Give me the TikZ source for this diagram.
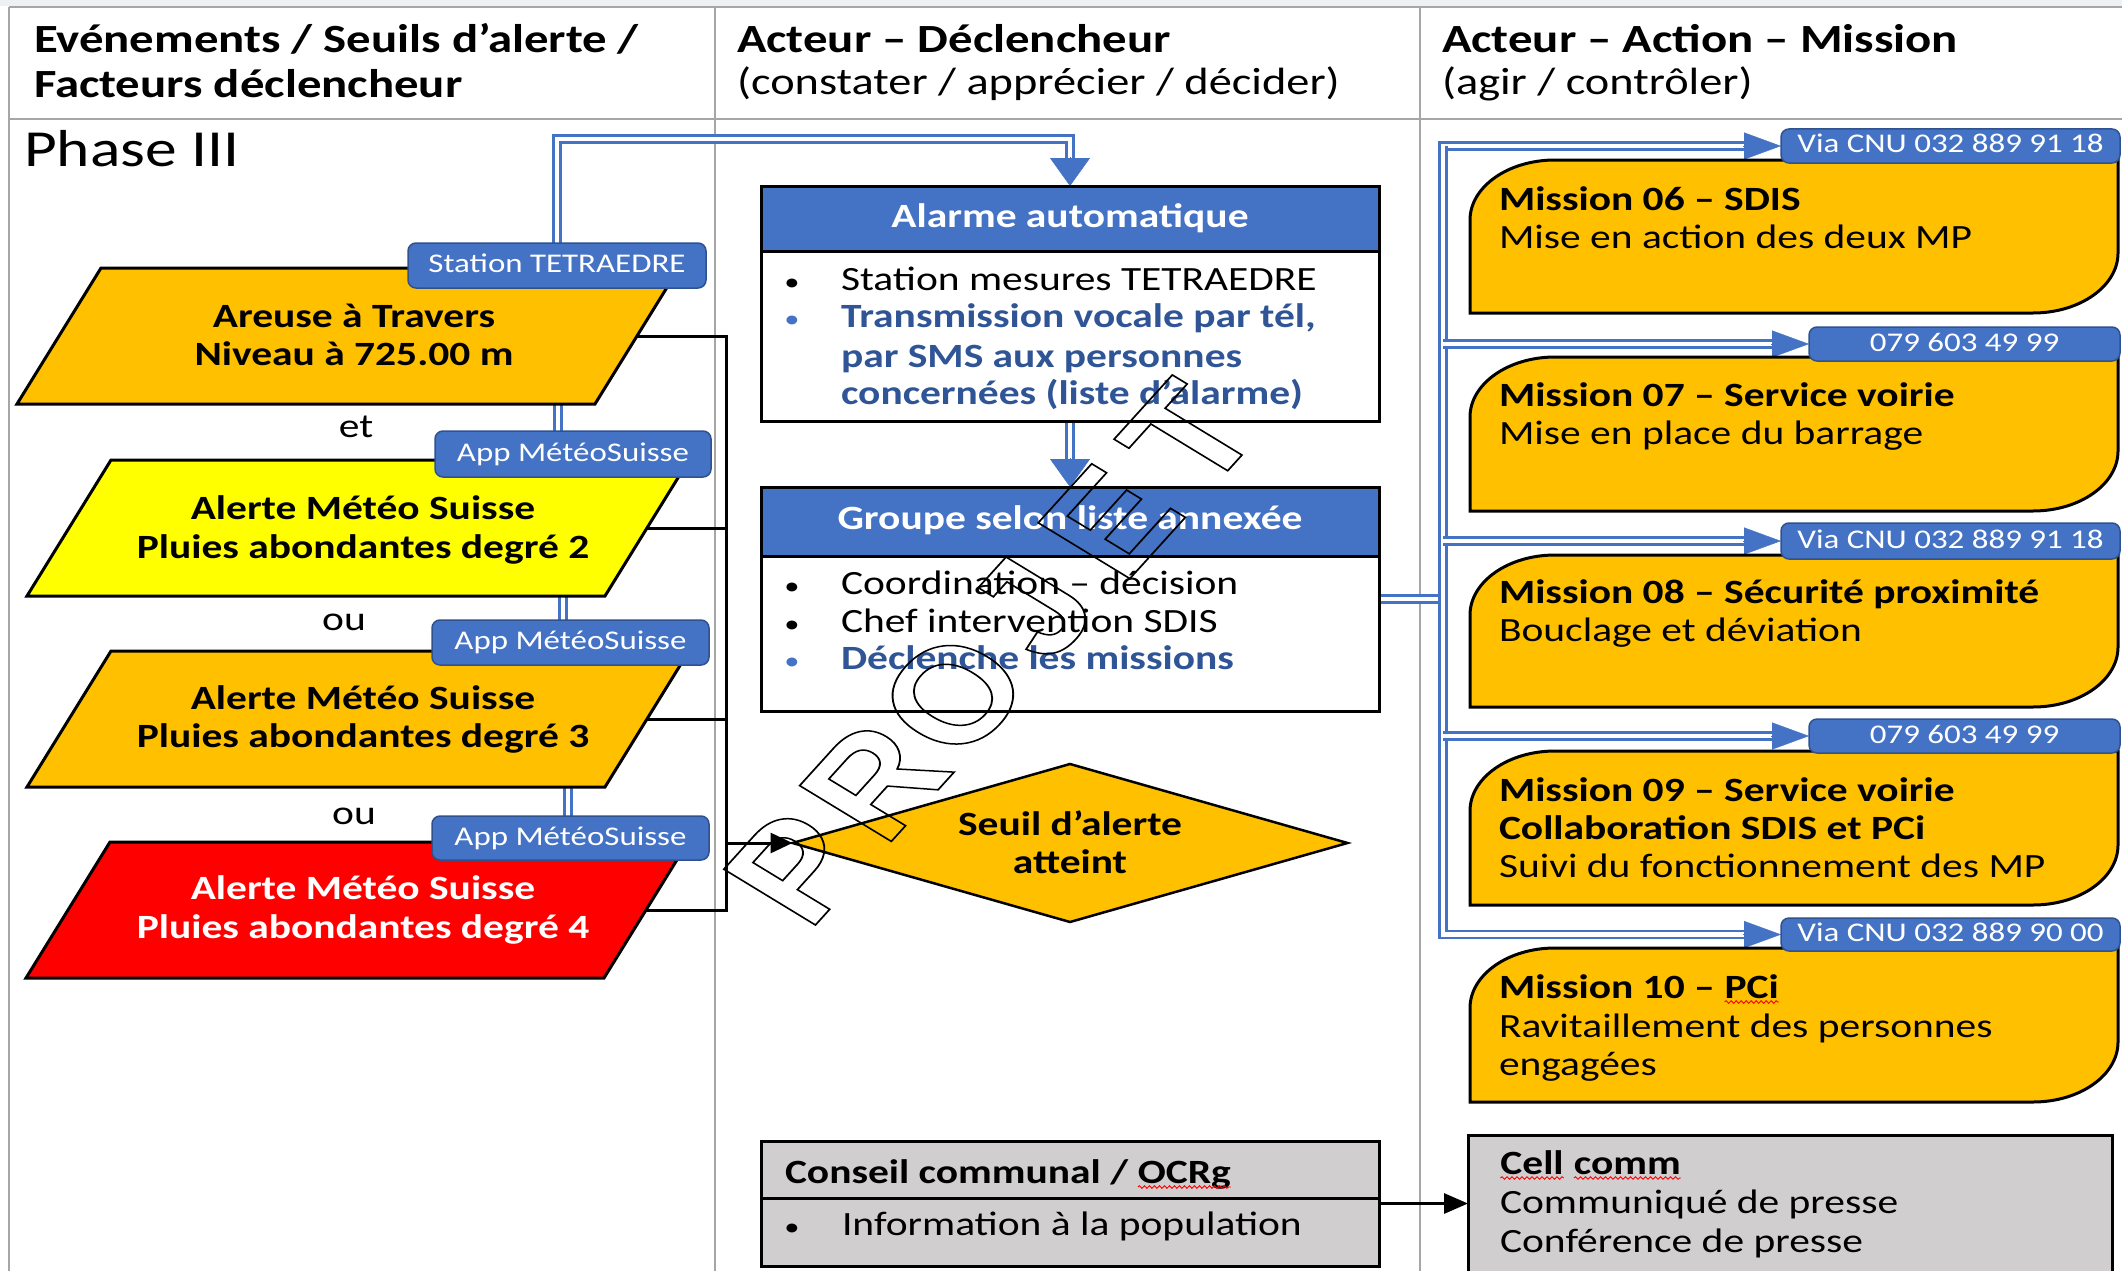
\documentclass[tikz,border=0pt]{standalone}
\usepackage{fontspec}
\setmainfont{Carlito}[FakeStretch=1.22]
\newfontfamily\wmfont{Liberation Sans}
\usetikzlibrary{arrows.meta,shapes.geometric,decorations.pathmorphing}
\pgfdeclarelayer{back}\pgfdeclarelayer{bg}\pgfsetlayers{back,bg,main}
\definecolor{hblue}{HTML}{4472C4}
\definecolor{lblue}{HTML}{2F528F}
\definecolor{tblue}{HTML}{2F5597}
\definecolor{gold}{HTML}{FFC000}
\definecolor{yel}{HTML}{FFFF00}
\definecolor{redf}{HTML}{FF0000}
\definecolor{grayf}{HTML}{D0CECE}
\definecolor{tline}{HTML}{A6A6A6}
\definecolor{topstrip}{HTML}{EEF1F3}
\newcommand\sqw[1]{\tikz[baseline=(w.base)]{\node[inner sep=0pt,outer sep=0pt](w){#1};\draw[red,line width=0.9pt,decorate,decoration={snake,amplitude=1.3pt,segment length=5pt}] ([yshift=-4pt]w.base west) -- ([yshift=-4pt]w.base east);}}
\newcommand\paral[4]{%
  \filldraw[boxline, fill=#4] (#2-331,#3+68) -- (#2-247,#3-68) -- (#2+331,#3-68) -- (#2+247,#3+68) -- cycle;
  \coordinate (#1) at (#2+289,#3);}
\newcommand\msnbox[2]{%
  \filldraw[boxline, fill=gold] (1470,#2) -- (1470,#1+60) arc[start angle=180,end angle=270,x radius=85,y radius=60] -- (2118,#1) -- (2118,#2-60) arc[start angle=0,end angle=90,x radius=85,y radius=60] -- cycle;}
\newcommand\wmch[1]{\special{pdf:literal direct 1 Tr 1.5 w}#1\special{pdf:literal direct 0 Tr}}
\begin{document}
\begin{tikzpicture}[x=1pt,y=-1pt,
  every node/.style={inner sep=0pt,outer sep=0pt},
  tabline/.style={draw=tline,line width=2pt},
  boxline/.style={draw=black,line width=3pt},
  dbl/.style={draw=hblue,line width=2.5pt,double=white,double distance=4.5pt},
  htip/.style={draw=hblue,line width=0.4pt,-{Triangle[length=37pt,width=27pt]}},
  vtip/.style={draw=hblue,line width=0.4pt,-{Triangle[length=28pt,width=40pt]}},
  blk/.style={draw=black,line width=3pt},
  lab/.style={rounded corners=8pt,fill=hblue,draw=lblue,line width=1.5pt,text=white,font=\fontsize{27}{30}\selectfont,text height=19pt,text depth=5pt},
  rg/.style={font=\fontsize{34}{38}\selectfont,anchor=base west},
  bd/.style={font=\fontsize{34}{38}\selectfont\bfseries,anchor=base west},
  bdc/.style={font=\fontsize{34}{38}\selectfont\bfseries,anchor=base},
  rgc/.style={font=\fontsize{34}{38}\selectfont,anchor=base},
  hd/.style={font=\fontsize{40}{44}\selectfont\bfseries,anchor=base west},
  hr/.style={font=\fontsize{38}{44}\selectfont,anchor=base west},
  bul/.style={font=\fontsize{25}{30}\selectfont,anchor=base},
]
\useasboundingbox (0,0) rectangle (2122,1271);
% ---------- headers ----------
\node[hd] (h1a) at (34,53) {Evénements / Seuils d’alerte /};
\node[hd] (h1b) at (34,98) {Facteurs déclencheur};
\node[hd] (h2a) at (737,53) {Acteur – Déclencheur};
\node[hr] (h2b) at (737,95) {(constater / apprécier / décider)};
\node[hd] (h3a) at (1442,53) {Acteur – Action – Mission};
\node[hr] (h3b) at (1442,95) {(agir / contrôler)};
\node[font=\fontsize{52}{56}\selectfont,anchor=base west] (phase) at (24,166) {Phase III};
% ---------- left column ----------
\paral{P1e}{348}{336}{gold}
\paral{P2e}{358}{528}{yel}
\paral{P3e}{358}{719}{gold}
\paral{P4e}{357}{910}{redf}
\node[bdc] (t1a) at (354,327) {Areuse à Travers};
\node[bdc] (t1b) at (354,365) {Niveau à 725.00 m};
\node[bdc] (t2a) at (363,519) {Alerte Météo Suisse};
\node[bdc] (t2b) at (363,558) {Pluies abondantes degré 2};
\node[bdc] (t3a) at (363,709) {Alerte Météo Suisse};
\node[bdc] (t3b) at (363,747) {Pluies abondantes degré 3};
\node[bdc,text=white] (t4a) at (363,899) {Alerte Météo Suisse};
\node[bdc,text=white] (t4b) at (363,938) {Pluies abondantes degré 4};
\node[rgc] (et) at (356,437) {et};
\node[rgc] (ou1) at (344,630) {ou};
\node[rgc] (ou2) at (354,824) {ou};
\node[lab,minimum width=298pt,minimum height=45pt] (ST) at (557,265.5) {Station TETRAEDRE};
\node[lab,minimum width=276pt,minimum height=46pt] (A1) at (573,454) {App MétéoSuisse};
\node[lab,minimum width=277pt,minimum height=45pt] (A2) at (570.5,642.5) {App MétéoSuisse};
\node[lab,minimum width=277pt,minimum height=44pt] (A3) at (570.5,838) {App MétéoSuisse};
% ---------- middle column ----------
\node[boxline,fill=white,minimum width=618pt,minimum height=235pt] (AL) at (1070,303.5) {};
\node[boxline,fill=hblue,minimum width=618pt,minimum height=65pt] (ALh) at (1070,218.5) {};
\node[bdc,text=white] (ALt) at (1070,227) {Alarme automatique};
\node[bul] (ab1) at (792,290) {•};
\node[rg] (al1) at (841,290) {Station mesures TETRAEDRE};
\node[bul,text=hblue] (ab2) at (792,327) {•};
\node[bd,text=tblue] (al2) at (841,327) {Transmission vocale par tél,};
\node[bd,text=tblue] (al3) at (841,367) {par SMS aux personnes};
\node[bd,text=tblue] (al4) at (841,404) {concernées (liste d’alarme)};
\node[boxline,fill=white,minimum width=618pt,minimum height=224pt] (G) at (1070,599) {};
\node[boxline,fill=hblue,minimum width=618pt,minimum height=69pt] (Gh) at (1070,521.5) {};
\node[bdc,text=white] (Gt) at (1070,529) {Groupe selon liste annexée};
\node[bul] (gb1) at (792,594) {•};
\node[rg] (gl1) at (841,594) {Coordination – décision};
\node[bul] (gb2) at (792,632) {•};
\node[rg] (gl2) at (841,632) {Chef intervention SDIS};
\node[bul,text=hblue] (gb3) at (792,669) {•};
\node[bd,text=tblue] (gl3) at (841,669) {Déclenche les missions};
\node[diamond,draw=black,line width=2.5pt,fill=gold,minimum width=555pt,minimum height=158pt] (D) at (1070,843) {};
\node[bdc] (Dt1) at (1070,835) {Seuil d’alerte};
\node[bdc] (Dt2) at (1070,873) {atteint};
\node[boxline,fill=grayf,minimum width=618pt,minimum height=125pt] (C) at (1070,1203.5) {};
\node[boxline,fill=grayf,minimum width=618pt,minimum height=57pt] (Ch) at (1070,1169.5) {};
\node[bd] (Ct) at (785,1183) {Conseil communal / \sqw{OCRg}};
\node[bul] (cb1) at (792,1235) {•};
\node[rg] (cl1) at (842,1235) {Information à la population};
% ---------- right column ----------
\msnbox{160}{313}
\msnbox{357}{511}
\msnbox{555}{707}
\msnbox{751}{905}
\msnbox{948}{1102}
\node[boxline,fill=grayf,minimum width=644pt,minimum height=155pt] (CC) at (1790,1212.5) {};
\node[lab,minimum width=339pt,minimum height=34pt] (L1) at (1950.5,146) {Via CNU 032 889 91 18};
\node[lab,minimum width=311pt,minimum height=34pt] (L2) at (1964.5,344) {079 603 49 99};
\node[lab,minimum width=339pt,minimum height=36pt] (L3) at (1950.5,541) {Via CNU 032 889 91 18};
\node[lab,minimum width=311pt,minimum height=34pt] (L4) at (1964.5,736) {079 603 49 99};
\node[lab,minimum width=339pt,minimum height=33pt] (L5) at (1950.5,934.5) {Via CNU 032 889 90 00};
\node[bd] (m6a) at (1499,210) {Mission 06 – SDIS};
\node[rg] (m6b) at (1499,248) {Mise en action des deux MP};
\node[bd] (m7a) at (1499,406) {Mission 07 – Service voirie};
\node[rg] (m7b) at (1499,444) {Mise en place du barrage};
\node[bd] (m8a) at (1499,603) {Mission 08 – Sécurité proximité};
\node[rg] (m8b) at (1499,641) {Bouclage et déviation};
\node[bd] (m9a) at (1499,801) {Mission 09 – Service voirie};
\node[bd] (m9b) at (1499,839) {Collaboration SDIS et PCi};
\node[rg] (m9c) at (1499,877) {Suivi du fonctionnement des MP};
\node[bd] (m10a) at (1499,998) {Mission 10 – \sqw{PCi}};
\node[rg] (m10b) at (1499,1037) {Ravitaillement des personnes};
\node[rg] (m10c) at (1499,1075) {engagées};
\node[bd] (cc1) at (1500,1174) {\sqw{Cell} \sqw{comm}};
\node[rg] (cc2) at (1500,1213) {Communiqué de presse};
\node[rg] (cc3) at (1500,1252) {Conférence de presse};
% ---------- black connectors ----------
\coordinate (bx) at (726,0);
\draw[blk] (P1e) -- (bx |- P1e) -- (bx |- P4e) -- (P4e);
\draw[blk] (P2e) -- (bx |- P2e);
\draw[blk] (P3e) -- (bx |- P3e);
\draw[blk,-{Triangle[length=22pt,width=20pt]}] (bx |- D.west) -- (D.west);
\draw[blk,-{Triangle[length=24pt,width=20pt]}] (C.east) -- (C.east -| CC.west);
% ---------- blue connectors ----------
\begin{pgfonlayer}{bg}
\coordinate (tb) at (1070,139);
\draw[dbl,shorten >=26pt] (ST.north) |- (tb) -- (AL.north);
\draw[vtip] ([yshift=29pt]AL.north) -- (AL.north);
\draw[dbl,shorten >=26pt] (AL.south) -- (G.north);
\draw[vtip] ([yshift=29pt]G.north) -- (G.north);
\coordinate (vx1) at (558,0);
\coordinate (vx2) at (563,0);
\coordinate (vx3) at (568,0);
\draw[dbl] (vx1 |- P1e) -- (vx1 |- A1.north);
\draw[dbl] (vx2 |- P2e) -- (vx2 |- A2.north);
\draw[dbl] (vx3 |- P3e) -- (vx3 |- A3.north);
\coordinate (bus) at (1443,0);
\draw[dbl] (G.east) -- (bus |- G.east);
\draw[dbl,shorten >=35pt] (bus |- L5.west) |- (L1.west);
\draw[dbl,shorten >=35pt] (bus |- L1.west) |- (L5.west);
\draw[dbl,shorten >=35pt] (bus |- L2.west) -- (L2.west);
\draw[dbl,shorten >=35pt] (bus |- L3.west) -- (L3.west);
\draw[dbl,shorten >=35pt] (bus |- L4.west) -- (L4.west);
\foreach \n in {L1,L2,L3,L4,L5}
  \draw[htip] ([xshift=-38pt]\n.west) -- (\n.west);
\end{pgfonlayer}
% ---------- background and table ----------
\begin{pgfonlayer}{back}
\fill[white] (0,0) rectangle (2122,1271);
\fill[topstrip] (0,0) rectangle (2122,6);
\draw[tabline] (9,7) -- (2122,7);
\draw[tabline] (9,119) -- (2122,119);
\draw[tabline] (9,7) -- (9,1271);
\draw[tabline] (715,7) -- (715,1271);
\draw[tabline] (1420,7) -- (1420,1271);
\end{pgfonlayer}
% ---------- watermark ----------
\begin{scope}[xscale=1.22]
\foreach \ch [count=\i from 0] in {P,R,O,J,E,T}
  \node[rotate=53.4,transform shape,font=\wmfont\bfseries\fontsize{136}{140}\selectfont] (wm\i) at ({(796+78.6*\i)/1.22},{868-86.6*\i}) {\wmch{\ch}};
\end{scope}
\end{tikzpicture}
\end{document}
